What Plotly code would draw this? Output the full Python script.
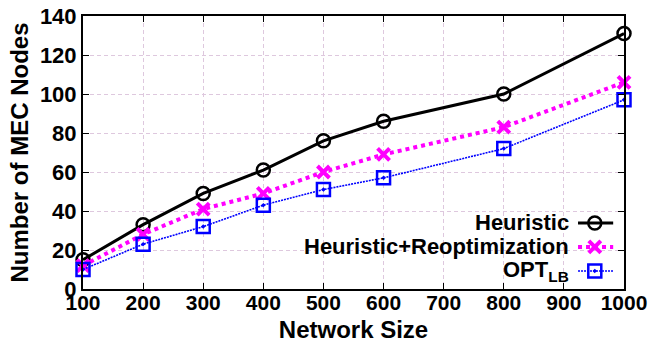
import plotly.graph_objects as go

# ---- data ----
network_size = [100, 200, 300, 400, 500, 600, 800, 1000]
heuristic = [15, 33, 49, 61, 76, 86, 100, 131]
heuristic_reopt = [12, 28, 41, 49, 60, 69, 83, 106]
opt_lb = [10, 23, 32, 43, 51, 57, 72, 97]
series_names = ["Heuristic", "Heuristic+Reoptimization", "OPT<sub>LB</sub>"]
x_ticks = [100, 200, 300, 400, 500, 600, 700, 800, 900, 1000]
y_ticks = [0, 20, 40, 60, 80, 100, 120, 140]

FONT = "Liberation Sans, Arial, sans-serif"
styles = [
    dict(line=dict(color="black", width=3), marker=dict(symbol="circle-open", size=13, color="black", line=dict(width=2.5, color="black"))),
    dict(line=dict(color="#ff00ff", width=4, dash="dot"), marker=dict(symbol="x-thin-open", size=12, color="#ff00ff", line=dict(width=4, color="#ff00ff"))),
    dict(line=dict(color="#0000ff", width=1.6, dash="2px,1px"), marker=dict(symbol="square-open-dot", size=13, color="#0000ff", line=dict(width=2.5, color="#0000ff"))),
]
values = [heuristic, heuristic_reopt, opt_lb]

fig = go.Figure()
for name, vals, st in zip(series_names, values, styles):
    fig.add_trace(go.Scatter(x=network_size, y=vals, mode="lines+markers", name=name,
                             line=st["line"], marker=st["marker"], showlegend=False, cliponaxis=False))

# ---- custom legend (text right-aligned, key on right) in plot-fraction coords ----
key_x0, key_xm, key_x1 = 0.915, 0.946, 0.980
key_text_x = 0.902
key_ys = [0.242, 0.154, 0.066]
for name, st, ky in zip(series_names, styles, key_ys):
    fig.add_trace(go.Scatter(x=[key_x0, key_xm, key_x1], y=[ky, ky, ky], mode="lines", line=st["line"],
                             xaxis="x2", yaxis="y2", showlegend=False, hoverinfo="skip"))
    fig.add_trace(go.Scatter(x=[key_xm], y=[ky], mode="markers", marker=st["marker"],
                             xaxis="x2", yaxis="y2", showlegend=False, hoverinfo="skip"))
    fig.add_annotation(x=key_text_x, y=ky, xref="x2", yref="y2", text=name, showarrow=False,
                       xanchor="right", yanchor="middle", font=dict(family=FONT, size=22, color="black", weight="bold"))

grid = "#dec8de"
fig.update_layout(
    template="none",
    width=648, height=347,
    margin=dict(l=83, r=24, t=16, b=58, autoexpand=False),
    paper_bgcolor="white", plot_bgcolor="white",
    font=dict(family=FONT, size=21, color="black", weight="bold"),
    xaxis=dict(range=[100, 1000], tickvals=x_ticks, ticks="inside", ticklen=6, tickwidth=1, tickcolor="black",
               showline=True, linecolor="black", linewidth=2, mirror="ticks", automargin=False,
               ticklabelstandoff=-6,
               showgrid=True, gridcolor=grid, griddash="4px,3px", gridwidth=1, zeroline=False,
               tickfont=dict(family=FONT, size=21, weight="bold"),
               title=dict(text="Network Size", font=dict(family=FONT, size=24, weight="bold"), standoff=8)),
    yaxis=dict(range=[0, 140], tickvals=y_ticks, ticks="inside", ticklen=6, tickwidth=1, tickcolor="black",
               showline=True, linecolor="black", linewidth=2, mirror="ticks", automargin=False,
               showgrid=True, gridcolor=grid, griddash="4px,3px", gridwidth=1, zeroline=False,
               tickfont=dict(family=FONT, size=22, weight="bold"),
               title=dict(text="Number of MEC Nodes", font=dict(family=FONT, size=24, weight="bold"), standoff=4)),
    xaxis2=dict(range=[0, 1], overlaying="x", visible=False, fixedrange=True),
    yaxis2=dict(range=[0, 1], overlaying="y", visible=False, fixedrange=True),
    showlegend=False,
)

fig.write_html("out.html")
